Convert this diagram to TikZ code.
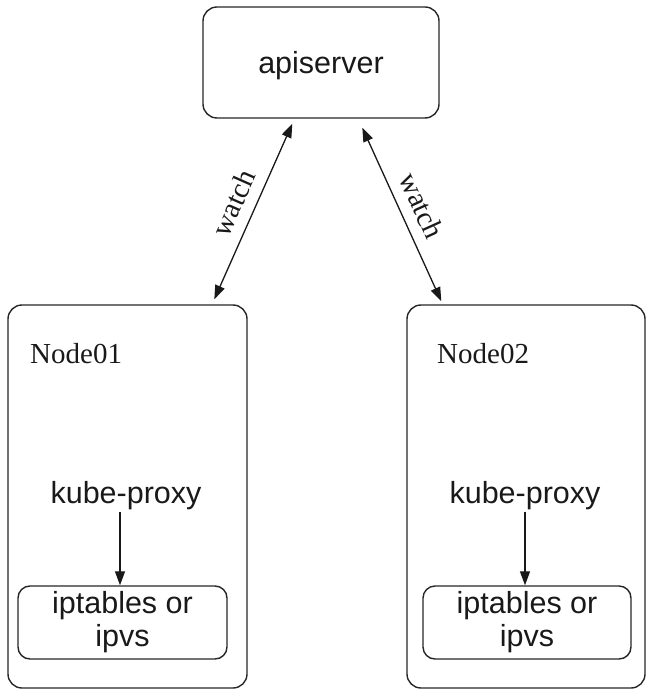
\documentclass[tikz,border=0pt]{standalone}
\usepackage{fontspec}
\setmainfont{Liberation Sans}
\newfontfamily\serifname{Liberation Serif}
\usetikzlibrary{arrows.meta}
\begin{document}
\begin{tikzpicture}[x=1pt,y=-1pt,
  box/.style={draw=black!85, line width=1.4pt, rounded corners=14pt, inner sep=0pt},
  ibox/.style={draw=black!85, line width=1.4pt, rounded corners=12pt, inner sep=0pt},
  sans/.style={font=\fontsize{30.5}{33}\selectfont, inner sep=0pt, text=black!90},
  serifl/.style={font=\serifname\fontsize{29}{32}\selectfont, inner sep=0pt, text=black!90},
  conn/.style={line width=1.3pt, draw=black!90},
  tip/.style={-{Triangle[length=14pt,width=10pt]}},
  dtip/.style={{Triangle[length=14pt,width=10pt]}-{Triangle[length=14pt,width=10pt]}}
]
\useasboundingbox (0,0) rectangle (656,700);
% boxes
\node[box, minimum width=236pt, minimum height=111pt] (api) at (321,62.5) {};
\node[box, minimum width=239pt, minimum height=383pt] (n1) at (127.5,496.5) {};
\node[box, minimum width=238pt, minimum height=383pt] (n2) at (526,496.5) {};
\node[ibox, minimum width=209pt, minimum height=73pt, sans, align=center] (in1) at (122.5,622.5) {iptables or\\ipvs};
\node[ibox, minimum width=208pt, minimum height=73pt, sans, align=center] (in2) at (527,622.5) {iptables or\\ipvs};
% labels
\node[sans, anchor=base] (apit) at (321,74) {apiserver};
\node[serifl, anchor=base west] (n1t) at (30,363) {Node01};
\node[serifl, anchor=base west] (n2t) at (437,363) {Node02};
\node[sans, anchor=base, inner sep=2pt] (kp1) at (126,503) {kube-proxy};
\node[sans, anchor=base, inner sep=2pt] (kp2) at (525,503) {kube-proxy};
% connectors
\draw[conn, dtip] ([xshift=90pt,yshift=-5pt]api.south west) -- node[midway, sloped, above=11pt, serifl] {watch} ([xshift=207pt,yshift=5pt]n1.north west);
\draw[conn, dtip] ([xshift=160pt,yshift=-9pt]api.south west) -- node[midway, sloped, above=11pt, serifl] {watch} ([xshift=35pt,yshift=3pt]n2.north west);
\draw[conn, tip] ([xshift=-6pt]kp1.south) -- ([xshift=-2.5pt]in1.north);
\draw[conn, tip] (kp2.south) -- ([xshift=-2pt]in2.north);
\end{tikzpicture}
\end{document}
